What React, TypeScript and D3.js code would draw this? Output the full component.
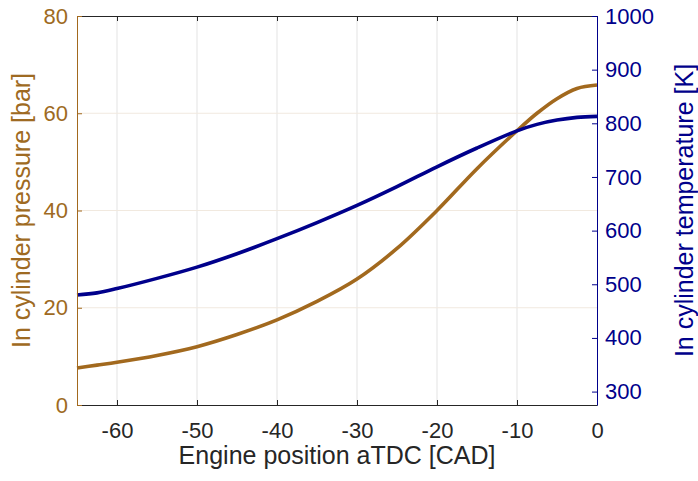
import * as d3 from 'd3'
import React, { useEffect, useRef } from 'react'

// crank angle positions [CAD aTDC]
const cad = [-65, -62.5, -60, -55, -50, -45, -40, -35, -30, -25, -20, -15, -10, -7.5, -5, -2.5, 0]
// in-cylinder pressure [bar]
const pressure = [7.6, 8.2, 8.8, 10.2, 12.0, 14.5, 17.5, 21.3, 25.9, 32.2, 40.0, 48.6, 56.4, 60.0, 63.0, 65.1, 65.8]
// in-cylinder temperature [K]
const temperature = [480, 484, 492, 511, 532, 557, 585, 615, 647, 682, 719, 754, 786, 798, 806, 811, 813]

const xTicks = [-60, -50, -40, -30, -20, -10, 0]
const leftTicks = [0, 20, 40, 60, 80]
const rightTicks = [300, 400, 500, 600, 700, 800, 900, 1000]

const W = 698
const H = 481
const margin = { top: 16, right: 101, bottom: 76, left: 77 }

const brown = '#A2691E'
const brownText = '#9E6A22'
const navy = '#00008B'
const dark = '#262626'
const font = '"Liberation Sans", Arial, sans-serif'

const App = () => {
  const ref = useRef<SVGSVGElement>(null)

  useEffect(() => {
    if (!ref.current) return
    const svg = d3.select(ref.current)
    svg.selectAll('*').remove()

    const x0 = margin.left
    const x1 = W - margin.right
    const y0 = H - margin.bottom
    const y1 = margin.top

    const xScale = d3.scaleLinear().domain([-65, 0]).range([x0, x1])
    const yLeft = d3.scaleLinear().domain([0, 80]).range([y0, y1])
    const yRight = d3.scaleLinear().domain([275, 1000]).range([y0, y1])
    const fmt = (d: d3.NumberValue) => String(d)

    // grid
    const grid = svg.append('g')
    grid
      .selectAll('line.vx')
      .data(xTicks.filter((t) => t > -65 && t < 0))
      .join('line')
      .attr('x1', (d) => xScale(d))
      .attr('x2', (d) => xScale(d))
      .attr('y1', y1)
      .attr('y2', y0)
      .attr('stroke', '#e3e3e3')
      .attr('stroke-width', 1)
    grid
      .selectAll('line.hy')
      .data(leftTicks.filter((t) => t > 0 && t < 80))
      .join('line')
      .attr('x1', x0)
      .attr('x2', x1)
      .attr('y1', (d) => yLeft(d))
      .attr('y2', (d) => yLeft(d))
      .attr('stroke', '#f1e9df')
      .attr('stroke-width', 1)

    // curves
    const pLine = d3
      .line<number>()
      .x((_, i) => xScale(cad[i]))
      .y((d) => yLeft(d))
      .curve(d3.curveCatmullRom.alpha(0.5))
    const tLine = d3
      .line<number>()
      .x((_, i) => xScale(cad[i]))
      .y((d) => yRight(d))
      .curve(d3.curveCatmullRom.alpha(0.5))

    svg
      .append('path')
      .attr('d', pLine(pressure) as string)
      .attr('fill', 'none')
      .attr('stroke', brown)
      .attr('stroke-width', 3.6)
    svg
      .append('path')
      .attr('d', tLine(temperature) as string)
      .attr('fill', 'none')
      .attr('stroke', navy)
      .attr('stroke-width', 3.6)

    // bottom + top axes
    const bottom = d3
      .axisBottom(xScale)
      .tickValues(xTicks)
      .tickFormat(fmt)
      .tickSizeInner(-5)
      .tickSizeOuter(0)
      .tickPadding(17)
    const gb = svg.append('g').attr('transform', `translate(0,${y0})`).call(bottom)
    gb.select('.domain').attr('stroke', dark)
    gb.selectAll('.tick line').attr('stroke', dark)
    gb.selectAll('.tick text').attr('fill', dark).attr('font-size', 22).attr('font-family', font)

    const gt = svg
      .append('g')
      .attr('transform', `translate(0,${y1})`)
      .call(d3.axisTop(xScale).tickValues(xTicks).tickSizeInner(-5).tickSizeOuter(0).tickFormat(() => ''))
    gt.select('.domain').attr('stroke', dark)
    gt.selectAll('.tick line').attr('stroke', dark)

    // left axis
    const gl = svg
      .append('g')
      .attr('transform', `translate(${x0},0)`)
      .call(d3.axisLeft(yLeft).tickValues(leftTicks).tickFormat(fmt).tickSizeInner(-5).tickSizeOuter(0).tickPadding(9))
    gl.select('.domain').attr('stroke', brown)
    gl.selectAll('.tick line').attr('stroke', brown)
    gl.selectAll('.tick text').attr('fill', brownText).attr('font-size', 22).attr('font-family', font)

    // right axis
    const gr = svg
      .append('g')
      .attr('transform', `translate(${x1},0)`)
      .call(d3.axisRight(yRight).tickValues(rightTicks).tickFormat(fmt).tickSizeInner(-5).tickSizeOuter(0).tickPadding(8))
    gr.select('.domain').attr('stroke', navy)
    gr.selectAll('.tick line').attr('stroke', navy)
    gr.selectAll('.tick text').attr('fill', navy).attr('font-size', 22).attr('font-family', font)

    // axis titles
    svg
      .append('text')
      .attr('x', (x0 + x1) / 2)
      .attr('y', 464)
      .attr('text-anchor', 'middle')
      .attr('font-size', 25)
      .attr('font-family', font)
      .attr('fill', dark)
      .text('Engine position aTDC [CAD]')
    svg
      .append('text')
      .attr('transform', `translate(30,${(y0 + y1) / 2}) rotate(-90)`)
      .attr('text-anchor', 'middle')
      .attr('font-size', 25)
      .attr('font-family', font)
      .attr('fill', brownText)
      .text('In cylinder pressure [bar]')
    svg
      .append('text')
      .attr('transform', `translate(693,${(y0 + y1) / 2}) rotate(-90)`)
      .attr('text-anchor', 'middle')
      .attr('font-size', 25)
      .attr('font-family', font)
      .attr('fill', navy)
      .text('In cylinder temperature [K]')
  }, [])

  return <svg ref={ref} width={W} height={H} style={{ position: 'absolute', left: 0, top: 0, background: '#fff' }} />
}

export default App
